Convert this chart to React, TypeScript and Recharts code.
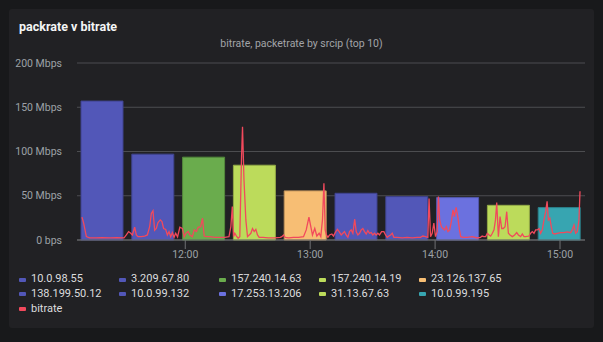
import React from "react";
import {
  ComposedChart,
  Bar,
  Cell,
  Line,
  XAxis,
  YAxis,
  CartesianGrid,
} from "recharts";

// ---- data ----
const srcIps = [
  "10.0.98.55",
  "3.209.67.80",
  "157.240.14.63",
  "157.240.14.19",
  "23.126.137.65",
  "138.199.50.12",
  "10.0.99.132",
  "17.253.13.206",
  "31.13.67.63",
  "10.0.99.195",
];
const bitrateMbps = [157, 97, 93.6, 84.5, 55.5, 52.8, 49, 47.9, 39.2, 36.6];
const barColors = [
  "#5257b8",
  "#5257b8",
  "#6aac4d",
  "#bcdb5b",
  "#f7be74",
  "#5257b8",
  "#5257b8",
  "#6b71df",
  "#bcdb5b",
  "#37a5b1",
];
const barStrokes = [
  "#3f438f",
  "#3f438f",
  "#53883c",
  "#93ab46",
  "#c0935a",
  "#3f438f",
  "#3f438f",
  "#5257ae",
  "#93ab46",
  "#2b808a",
];
const lineColor = "#f2495c";

// time in minutes since midnight, value in Mbps
const bitratePoints: [number, number][] = [
  [670.4, 25.8], [671.2, 19], [672.5, 3.8], [674, 2.5], [677, 2.5], [680, 2.7], [684, 2.5],
  [687, 2.6], [690.6, 2.5], [691.7, 5.7], [692.8, 9.5], [693.8, 7.6], [694.6, 5.7], [695.7, 14.4],
  [696.5, 5.7], [697.3, 3.8], [698.9, 3.8], [700.5, 4.5], [701.8, 5.7], [702.9, 15], [703.7, 30],
  [704.5, 33], [705.3, 11], [706.1, 13], [706.9, 19.7], [708, 22.7], [708.8, 20.8], [709.6, 13],
  [710.6, 12], [711.4, 5.7], [712.2, 9.5], [713, 3.8], [713.8, 8.3], [714.6, 3], [715.4, 7.6],
  [716.3, 3.5], [717.4, 14.4], [718.6, 13], [719.5, 3.8], [720.3, 7.6], [721.4, 9.5], [722.2, 5.7],
  [723.4, 3.8], [724.3, 11.4], [725.4, 9.5], [726.2, 14.4], [727.4, 15], [728.3, 24.6], [729.1, 4.5],
  [730.2, 3.8], [731.8, 3.8], [734.2, 3], [736.6, 3], [739, 3], [741, 3.8], [741.9, 15],
  [742.6, 37.9], [743.2, 3.8], [743.8, 7.6], [744.6, 4.5], [745.4, 2], [746.2, 3.8], [747, 91],
  [747.5, 128], [748.2, 68], [749.1, 22.7], [749.9, 3.8], [750.7, 5.7], [751.5, 7.6], [752.3, 13],
  [753.1, 9.5], [753.9, 12], [754.7, 5.7], [755.5, 3], [757.4, 3], [759.8, 2.3], [763, 2.3],
  [765.6, 3], [766.4, 3.8], [767.2, 5.7], [768, 3], [769.6, 2.3], [772, 3], [774.4, 3],
  [776.8, 3.8], [778.1, 11.4], [779.4, 25.8], [780.3, 15], [781.1, 5.7], [782.2, 13], [783.2, 4.5],
  [784.3, 7.6], [785.1, 3.8], [785.9, 22.7], [786.6, 64], [787.2, 11.4], [787.8, 5.7], [788.5, 3],
  [789.3, 5.7], [790.4, 6.8], [791.2, 4.5], [792.3, 9.5], [793.1, 12], [793.9, 9.5], [794.9, 5.7],
  [795.7, 7.6], [796.5, 9.5], [797.3, 5.7], [798.1, 3], [798.9, 9.5], [799.7, 11.4], [800.5, 7.6],
  [801.4, 23.5], [802.1, 9.5], [802.9, 5.7], [803.7, 7.6], [804.5, 11.4], [805.3, 13], [806.1, 9.5],
  [806.9, 6.8], [807.7, 10.6], [808.5, 7.6], [809.3, 8.3], [810.1, 5.7], [810.9, 7.6], [811.7, 5.7],
  [812.5, 7.6], [813.3, 5.7], [814.3, 9.5], [815.4, 9.5], [816.2, 5.7], [817, 3], [817.8, 4.5],
  [818.6, 5.7], [819.4, 7.6], [820.2, 3], [821.8, 3], [824.2, 2.3], [826.6, 3], [829, 2.3],
  [831.4, 3], [833, 3], [834.1, 4.5], [835.4, 3.8], [836.5, 3], [837.1, 47], [837.8, 3.8],
  [838.6, 7.6], [839.4, 19], [840.2, 3.8], [841, 9.5], [841.6, 49], [842.2, 22.7], [843, 15],
  [843.8, 13], [844.6, 11.4], [845.4, 15], [846.2, 9.5], [847, 11.4], [847.8, 20.8], [848.6, 34],
  [849.3, 26.5], [850.1, 37], [850.9, 26.5], [851.7, 11.4], [852.3, 3.8], [853.4, 3], [855.4, 3],
  [857.8, 3.8], [860.2, 2.3], [861.8, 3], [862.6, 4.5], [863.4, 3.8], [864.3, 3.8], [865.1, 7.6],
  [865.9, 5.7], [866.7, 4.5], [867.5, 7.6], [868.3, 11.4], [869, 22.7], [869.6, 42.4], [870.4, 3.8],
  [871.2, 26.5], [872, 13], [872.8, 13], [873.6, 15], [874.4, 32], [875.2, 7.6], [876, 5.7],
  [877.1, 3.8], [878.2, 5.7], [879.2, 8.3], [880, 5.7], [881.1, 3.8], [881.9, 6.8], [882.7, 3.8],
  [883.5, 3.8], [885.1, 4.5], [885.9, 7.6], [886.7, 9.5], [887.5, 7.6], [888.3, 11.4], [889.1, 11.4],
  [889.9, 13], [890.7, 7.6], [891.5, 11.4], [892.3, 22.7], [893.1, 32], [893.8, 43.6], [894.4, 22.7],
  [895.1, 24.6], [895.8, 15], [896.5, 7.6], [897.4, 6.8], [898.7, 7.6], [900.3, 8.3], [901.9, 8.3],
  [903.5, 9.1], [905.1, 8.3], [905.9, 11.4], [906.7, 17], [907.5, 7.6], [908.3, 9.5], [909.1, 22.7],
  [909.6, 55],
];

const timeDomain = [668, 912];
const timeTicks = [720, 780, 840, 900];
const yTicks = [0, 50, 100, 150, 200];

const titleText = "packrate v bitrate";
const subtitleText = "bitrate, packetrate by srcip (top 10)";
const lineName = "bitrate";

// ---- derived tables ----
const barData = srcIps.map((ip, i) => ({ ip, value: bitrateMbps[i] }));
const lineData = bitratePoints.map(([t, v]) => ({ t, v }));

const FONT = "Roboto, 'Noto Sans', sans-serif";
const AXIS_TEXT = "#9da1a6";
const GRID = "#4c4d50";

const fmtTime = (m: number) => {
  const h = Math.floor(m / 60);
  const mm = Math.round(m % 60);
  return `${h}:${mm < 10 ? "0" + mm : mm}`;
};
const fmtY = (v: number) => (v === 0 ? "0 bps" : `${v} Mbps`);

const legendItems = [
  ...srcIps.map((ip, i) => ({ name: ip, color: barColors[i] })),
  { name: lineName, color: lineColor },
];

export default function App() {
  return (
    <div
      style={{
        position: "absolute",
        left: 0,
        top: 0,
        width: 603,
        height: 342,
        background: "#18191b",
        fontFamily: FONT,
        overflow: "hidden",
      }}
    >
      <div
        style={{
          position: "absolute",
          left: 9,
          top: 9,
          width: 585,
          height: 319,
          background: "#212124",
          borderRadius: 3,
        }}
      />
      <div
        style={{
          position: "absolute",
          left: 19,
          top: 20.5,
          fontSize: 12.5,
          lineHeight: 1,
          fontWeight: 700,
          color: "#f4f5f5",
          whiteSpace: "nowrap",
        }}
      >
        {titleText}
      </div>
      <div
        style={{
          position: "absolute",
          left: 0,
          width: 603,
          top: 38.5,
          fontSize: 10.5,
          lineHeight: 1,
          color: "#a2a4a8",
          textAlign: "center",
          whiteSpace: "nowrap",
        }}
      >
        {subtitleText}
      </div>
      <div style={{ position: "absolute", left: 0, top: 0 }}>
        <ComposedChart
          width={603}
          height={342}
          data={barData}
          margin={{ top: 63, right: 18, bottom: 72, left: 0 }}
        >
          <CartesianGrid
            xAxisId="time"
            vertical={false}
            stroke={GRID}
            strokeWidth={1}
          />
          <XAxis
            xAxisId="time"
            dataKey="t"
            type="number"
            domain={timeDomain}
            allowDataOverflow
            ticks={timeTicks}
            tickFormatter={fmtTime}
            height={30}
            stroke="#6f7073"
            tickSize={9}
            tickMargin={2}
            tick={{ fill: AXIS_TEXT, fontSize: 10.5, fontFamily: FONT }}
          />
          <XAxis xAxisId="cat" dataKey="ip" type="category" hide height={0} />
          <YAxis
            domain={[0, 200]}
            ticks={yTicks}
            tickFormatter={fmtY}
            width={77}
            axisLine={false}
            tickLine={false}
            tickSize={0}
            tickMargin={15}
            tick={{ fill: AXIS_TEXT, fontSize: 10.5, fontFamily: FONT }}
          />
          <Bar
            xAxisId="cat"
            dataKey="value"
            barSize={42}
            isAnimationActive={false}
          >
            {barData.map((d, i) => (
              <Cell key={d.ip} fill={barColors[i]} stroke={barStrokes[i]} strokeWidth={1} />
            ))}
          </Bar>
          <Line
            xAxisId="time"
            data={lineData}
            dataKey="v"
            name={lineName}
            type="linear"
            stroke={lineColor}
            strokeWidth={1.3}
            dot={false}
            activeDot={false}
            isAnimationActive={false}
          />
        </ComposedChart>
      </div>
      {legendItems.map((it, i) => {
        const row = Math.floor(i / 5);
        const col = i % 5;
        return (
          <div
            key={it.name}
            style={{
              position: "absolute",
              left: 19 + col * 100,
              top: 272.2 + row * 14.7,
              height: 14.7,
              display: "flex",
              alignItems: "center",
              fontSize: 11,
              lineHeight: "14.7px",
              color: "#dcdddf",
              whiteSpace: "nowrap",
            }}
          >
            <span
              style={{
                display: "inline-block",
                width: 7,
                height: 4,
                borderRadius: 1,
                background: it.color,
                marginRight: 5,
              }}
            />
            {it.name}
          </div>
        );
      })}
    </div>
  );
}
